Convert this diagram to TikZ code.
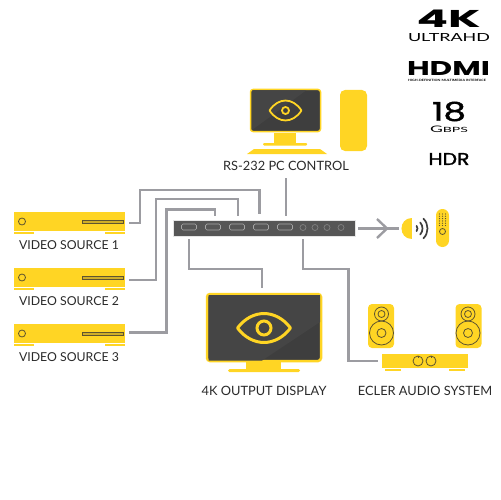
\documentclass[tikz,border=0pt]{standalone}
\usepackage{fontspec}
\usepackage{graphicx}
\setmainfont{Lato}
\newfontfamily\heavy{Poppins}
\newfontfamily\medium[FakeBold=1.2]{Poppins}
\newdimen\px \px=0.02cm
\definecolor{yel}{HTML}{FFD524}
\definecolor{darkc}{HTML}{3E3E3E}
\definecolor{darkb}{HTML}{454545}
\definecolor{wirec}{HTML}{9C9CA1}
\definecolor{txt}{HTML}{2A2A2A}
\definecolor{swfill}{HTML}{565656}
\definecolor{inkc}{HTML}{5E5430}
\newcommand{\fitbox}[3]{\resizebox{#1\px}{#2\px}{#3}}
\newcommand{\eyeshape}[6]{% cx cy halfw halfh r lw
  \draw[yel,line width=#6\px,line join=round]
    (#1-#3,#2) .. controls (#1-#3*0.45,#2-#4*1.33) and (#1+#3*0.45,#2-#4*1.33) .. (#1+#3,#2)
    .. controls (#1+#3*0.45,#2+#4*1.33) and (#1-#3*0.45,#2+#4*1.33) .. cycle;
  \draw[yel,line width=#6\px] (#1,#2) circle (#5);
}
\tikzset{
  wirecon/.style={wirec,line width=2.4\px},
  lbl/.style={text=txt,inner sep=0pt,font=\fontsize{7.3pt}{8pt}\selectfont},
  srclbl/.style={text=txt,inner sep=0pt,font=\fontsize{7.0pt}{8pt}\selectfont},
  logo/.style={text=black,inner sep=0pt},
  yfill/.style={fill=yel,draw=none},
  ink/.style={draw=inkc,line width=0.8\px},
}
\newcommand{\source}[2]{% name, top y
  \node[yfill,minimum width=111\px,minimum height=19\px,inner sep=0pt,anchor=north west] (#1) at (14,#2) {};
  \fill[yel] (14,#2+20) rectangle (34,#2+22);
  \fill[yel] (105,#2+20) rectangle (125,#2+22);
  \draw[ink] (22,#2+9.5) circle (3.5);
  \draw[inkc,line width=0.8\px,fill=yel!70!inkc] (82,#2+8) rectangle (123,#2+11);
}
\begin{document}
\begin{tikzpicture}[x=0.02cm,y=-0.02cm]
\useasboundingbox (0,0) rectangle (500,500);

% --- logos
\node[logo] (l4k) at (448.5,18.5) {\fitbox{64}{17.5}{\heavy\bfseries 4K}};
\node[logo] (lultra) at (449,37.5) {\fitbox{82}{8}{ULTRAHD}};
\node[logo] (lhdmi) at (448.5,68.5) {\fitbox{83}{14}{\heavy\bfseries HDMI}};
\node[logo] (lhdmisub) at (447,80.5) {\fitbox{78}{2.2}{\bfseries HIGH-DEFINITION MULTIMEDIA INTERFACE}};
\node[logo] (l18) at (449,111.5) {\fitbox{34}{19}{\medium 18}};
\node[logo] (lgb) at (449,129) {\fitbox{38}{6.5}{G\scalebox{0.8}{BPS}}};
\node[logo] (lhdr) at (449,159) {\fitbox{41}{12}{\medium HDR}};

% --- PC
\node[draw=yel,fill=darkc,line width=1.5\px,rounded corners=2.5\px,minimum width=70\px,minimum height=42\px,inner sep=0pt] (pc) at (285.5,110.5) {};
\fill[darkb] (252,90.5) -- (306,90.5) -- (252,130) -- cycle;
\eyeshape{285.5}{110.5}{16}{10}{3.5}{1.8}
\fill[yel] (274,132.5) rectangle (296,143);
\fill[yel,rounded corners=1\px] (263,143) rectangle (307,145.5);
\fill[yel] (254,149) -- (320,149) -- (327,154) -- (247,154) -- cycle;
\node[fill=yel,minimum width=27\px,minimum height=61\px,rounded corners=5\px,inner sep=0pt] (tower) at (353.5,120.5) {};
\node[lbl] (pclabel) at (286,166) {RS-232 PC CONTROL};

% --- switch
\node[fill=swfill,draw=black!10,line width=0.5\px,minimum width=182\px,minimum height=16\px,inner sep=0pt] (sw) at (264,228) {};
\foreach \nm/\x in {a/189,b/213,c/237,d/261,e/285}{
  \node[draw=black!35,line width=0.7\px,rounded corners=1.5\px,minimum width=15\px,minimum height=6\px,inner sep=0pt] (port\nm) at (\x,227) {};
}
\foreach \x in {303,315,327,341}{
  \draw[black!50,line width=0.7\px] (\x,227.5) circle (3);
}

% --- sources
\source{srca}{212}
\source{srcb}{268}
\source{srcc}{324}
\node[srclbl] (srcalbl) at (69,245.5) {VIDEO SOURCE 1};
\node[srclbl] (srcblbl) at (69,301.5) {VIDEO SOURCE 2};
\node[srclbl] (srcclbl) at (69,357) {VIDEO SOURCE 3};

% --- display
\node[draw=yel,fill=darkc,line width=2.5\px,rounded corners=3\px,minimum width=114\px,minimum height=67\px,inner sep=0pt] (disp) at (264,327.5) {};
\fill[darkb] (208.5,360.5) -- (208.5,295) -- (320,295) -- (320,322) -- (262,360.5) -- cycle;
\eyeshape{264}{328}{26.5}{14.5}{7}{3}
\fill[yel] (246,362) rectangle (281,369);
\fill[yel,rounded corners=1.5\px] (228,369) rectangle (300,372);
\node[lbl] (displbl) at (264,391) {4K OUTPUT DISPLAY};

% --- audio
\node[fill=yel,minimum width=26\px,minimum height=44\px,rounded corners=4\px,inner sep=0pt] (spka) at (381,326) {};
\node[fill=yel,minimum width=26\px,minimum height=44\px,rounded corners=4\px,inner sep=0pt] (spkb) at (468.5,326) {};
\foreach \c in {381.5,468}{
  \draw[ink] (\c,314) circle (7);
  \draw[ink] (\c,314) circle (3.5);
  \draw[ink] (\c,333) circle (12);
  \draw[ink] (\c,333) circle (4.5);
}
\node[fill=yel,minimum width=86\px,minimum height=14\px,inner sep=0pt] (amp) at (425,361) {};
\fill[yel] (385,369) rectangle (401,371);
\fill[yel] (449,369) rectangle (465,371);
\draw[ink] (418,361) circle (5);
\draw[ink] (431,361) circle (5);
\draw[ink] (418,356) -- (418,358);
\draw[ink] (431,356) -- (431,358);
\node[lbl] (amplbl) at (425,391) {ECLER AUDIO SYSTEM};

% --- IR and remote
\fill[yel] (412,218) .. controls (398,218) and (398,239) .. (412,239) -- cycle;
\coordinate (ir) at (413.5,228.5);
\draw[darkc,line width=1.7\px,line cap=round] (ir) ++(-40:4) arc (-40:40:4);
\draw[darkc,line width=1.7\px,line cap=round] (ir) ++(-42:9) arc (-42:42:9);
\draw[darkc,line width=1.7\px,line cap=round] (ir) ++(-45:14) arc (-45:45:14);
\node[fill=yel,minimum width=13\px,minimum height=38\px,rounded corners=6.4\px,inner sep=0pt] (remote) at (442.5,228) {};
\foreach \yy in {214,216.3,218.6,220.9,223.2,225.5}{
  \foreach \xx in {439.5,442.5,445.5}{
    \fill[inkc] (\xx,\yy) circle (0.65);
  }
}
\draw[ink] (442.5,231.5) circle (3);

% --- connector ends
\coordinate (sa) at (129,223);
\coordinate (sb) at (129,280);
\coordinate (sc) at (129,332.5);
\coordinate (pa) at (215,216);
\coordinate (pb) at (238,216);
\coordinate (pc1) at (259.5,214);
\coordinate (pe) at (286,216);
\coordinate (pcin) at (286,178);
\coordinate (da) at (189,239);
\coordinate (dd) at (262,288);
\coordinate (ab) at (303,239);
\coordinate (ae) at (378,361);
\coordinate (ar1) at (358,228.5);
\coordinate (ar2) at (399,228.5);
\coordinate (ah) at (387,228.5);

% --- connectors
\draw[wirecon] (sa) -- (140,223) -- (140,190) -- (259.5,190) -- (pc1);
\draw[wirecon] (sb) -- (156,280) -- (156,199) -- (238,199) -- (pb);
\draw[wirecon] (sc) -- (166.5,332.5) -- (166.5,209.5) -- (215,209.5) -- (pa);
\draw[wirecon] (pcin) -- (pe);
\draw[wirecon] (da) -- (189,269) -- (262,269) -- (dd);
\draw[wirecon] (ab) -- (303,269) -- (348.5,269) -- (348.5,361) -- (ae);
\draw[wirecon] (ar1) -- (ar2);
\draw[wirecon] (377,219) -- (ah) -- (377,238);
\end{tikzpicture}
\end{document}
